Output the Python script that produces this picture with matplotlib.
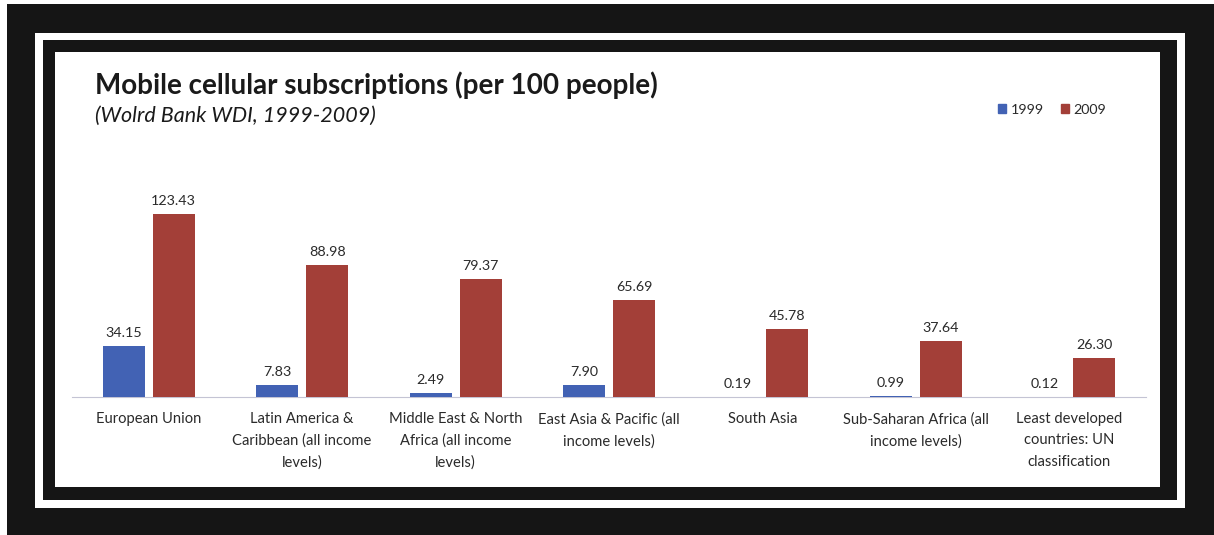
import numpy as np
import matplotlib.pyplot as plt
from matplotlib.patches import Rectangle, Patch

regions = [
    "European Union",
    "Latin America &\nCaribbean (all income\nlevels)",
    "Middle East & North\nAfrica (all income\nlevels)",
    "East Asia & Pacific (all\nincome levels)",
    "South Asia",
    "Sub-Saharan Africa (all\nincome levels)",
    "Least developed\ncountries: UN\nclassification",
]
subs_1999 = [34.15, 7.83, 2.49, 7.90, 0.19, 0.99, 0.12]
subs_2009 = [123.43, 88.98, 79.37, 65.69, 45.78, 37.64, 26.30]

W, H = 1214, 535
plt.rcParams['font.family'] = ['Lato', 'DejaVu Sans']
fig = plt.figure(figsize=(W / 100, H / 100), dpi=100, facecolor='#151515')


def box(x0, y0, x1, y1, color):
    # pixel coords measured from the top-left corner
    fig.add_artist(Rectangle((x0 / W, 1 - y1 / H), (x1 - x0) / W, (y1 - y0) / H,
                             transform=fig.transFigure, color=color, lw=0, zorder=0))


box(0, 0, W, 4, 'white')
box(0, 0, 7, H, 'white')
box(35, 33, 1185, 508, 'white')
box(43, 40, 1177, 500, '#151515')
box(55, 52, 1160, 487, 'white')

# axes: x from 72 to 1146 px, baseline at 397 px, 1.483 px per unit
ax = fig.add_axes([72 / W, (H - 397) / H, (1146 - 72) / W, 247 / H])
ax.patch.set_alpha(0)
ax.set_xlim(-0.5, 6.5)
ax.set_ylim(0, 247 / 1.483)

x = np.arange(len(regions))
bw = 0.274
b1 = ax.bar(x - 0.163, subs_1999, bw, color='#4262b4', zorder=3)
b2 = ax.bar(x + 0.163, subs_2009, bw, color='#a33f38', zorder=3)
ax.bar_label(b1, labels=['%.2f' % v for v in subs_1999], padding=5, fontsize=10.3, color='#2a2a2a')
ax.bar_label(b2, labels=['%.2f' % v for v in subs_2009], padding=5, fontsize=10.3, color='#2a2a2a')

for s in ['top', 'right', 'left']:
    ax.spines[s].set_visible(False)
ax.spines['bottom'].set_color('#c4c4d4')
ax.set_yticks([])
ax.set_xticks(x)
ax.set_xticklabels(regions, fontsize=10.6, color='#2a2a2a', linespacing=1.65)
ax.tick_params(axis='x', length=0, pad=11)

fig.text(95 / W, 1 - 85 / H, "Mobile cellular subscriptions (per 100 people)",
         fontsize=20, fontweight='bold', color='#1a1a1a', va='center', ha='left')
fig.text(95 / W, 1 - 116 / H, "(Wolrd Bank WDI, 1999-2009)",
         fontsize=15.5, style='italic', color='#1a1a1a', va='center', ha='left')

handles = [Patch(color='#4262b4', label='1999'), Patch(color='#a33f38', label='2009')]
fig.legend(handles=handles, loc='center', bbox_to_anchor=(1052 / W, 1 - 110 / H), ncol=2,
           frameon=False, fontsize=10.3, handlelength=0.6, handleheight=0.6,
           handletextpad=0.3, columnspacing=1.2, labelcolor='#2a2a2a')

fig.savefig('out.png', dpi=100, facecolor=fig.get_facecolor())
